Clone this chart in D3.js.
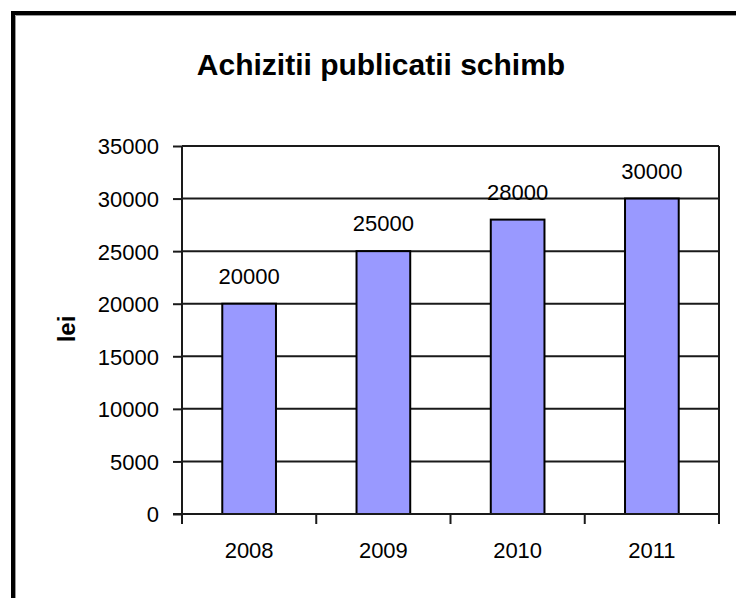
<!DOCTYPE html>
<html>
<head>
<meta charset="utf-8">
<script src="https://cdn.jsdelivr.net/npm/d3@7"></script>
<style>
  html, body { margin: 0; padding: 0; background: #fff; }
  svg { display: block; }
  text { font-family: "Liberation Sans", Arial, sans-serif; fill: #000; }
</style>
</head>
<body>
<script>
const categories = ["2008", "2009", "2010", "2011"];
const values = [20000, 25000, 28000, 30000];
const yTicks = [0, 5000, 10000, 15000, 20000, 25000, 30000, 35000];
const chartTitle = "Achizitii publicatii schimb";
const yTitle = "lei";

const W = 736, H = 598;
const pLeft = 182, pRight = 719, pTop = 146, pBottom = 514;

const svg = d3.select("body").append("svg").attr("width", W).attr("height", H);
svg.append("rect").attr("width", W).attr("height", H).attr("fill", "#fff");

// outer chart border (extends beyond right/bottom)
svg.append("rect").attr("x", 13).attr("y", 13).attr("width", 800).attr("height", 700)
  .attr("fill", "#fff").attr("stroke", "#000").attr("stroke-width", 4);
svg.append("path").attr("d", "M15.5,800 V15.5 H800").attr("fill", "none")
  .attr("stroke", "#999").attr("stroke-width", 1);

const x = d3.scaleBand().domain(categories).range([pLeft, pRight]).paddingInner(0.6).paddingOuter(0.3);
const y = d3.scaleLinear().domain([0, 35000]).range([pBottom, pTop]);

// gridlines
svg.append("g").selectAll("line").data(yTicks.filter(d => d > 0)).join("line")
  .attr("x1", pLeft).attr("x2", pRight).attr("y1", d => y(d)).attr("y2", d => y(d))
  .attr("stroke", "#1a1a1a").attr("stroke-width", 2);
// right border of plot area
svg.append("line").attr("x1", pRight).attr("x2", pRight).attr("y1", pTop).attr("y2", pBottom)
  .attr("stroke", "#1a1a1a").attr("stroke-width", 2);

// bars
svg.append("g").selectAll("rect").data(values).join("rect")
  .attr("x", (d, i) => x(categories[i]))
  .attr("y", d => y(d))
  .attr("width", x.bandwidth())
  .attr("height", d => y(0) - y(d))
  .attr("fill", "#9999ff").attr("stroke", "#000").attr("stroke-width", 2);

// y axis
const yAxis = svg.append("g").attr("transform", `translate(${pLeft},0)`)
  .call(d3.axisLeft(y).tickValues(yTicks).tickSize(9).tickPadding(14).tickFormat(d3.format("d")));
yAxis.select(".domain").attr("d", `M0,${pTop}V${pBottom + 10}`).attr("stroke", "#1a1a1a").attr("stroke-width", 2);
yAxis.selectAll(".tick line").attr("stroke", "#1a1a1a").attr("stroke-width", 2);
yAxis.selectAll(".tick text").attr("font-size", 22).attr("font-family", "Liberation Sans, Arial, sans-serif")
  .attr("fill", "#000").attr("dy", "0.36em");

// x axis
const bounds = categories.map(c => x(c) - (x.step() - x.bandwidth()) / 2).concat([pRight]);
svg.append("line").attr("x1", pLeft - 9).attr("x2", pRight).attr("y1", pBottom).attr("y2", pBottom)
  .attr("stroke", "#1a1a1a").attr("stroke-width", 2);
svg.append("g").selectAll("line").data(bounds).join("line")
  .attr("x1", d => d).attr("x2", d => d).attr("y1", pBottom).attr("y2", pBottom + 10)
  .attr("stroke", "#1a1a1a").attr("stroke-width", 2);
svg.append("g").selectAll("text").data(categories).join("text")
  .attr("x", d => x(d) + x.bandwidth() / 2).attr("y", 558)
  .attr("text-anchor", "middle").attr("font-size", 22).text(d => d);

// value labels
svg.append("g").selectAll("text").data(values).join("text")
  .attr("x", (d, i) => x(categories[i]) + x.bandwidth() / 2)
  .attr("y", d => y(d) - 20)
  .attr("text-anchor", "middle").attr("font-size", 22).text(d => d);

// title
svg.append("text").attr("x", 381).attr("y", 75).attr("text-anchor", "middle")
  .attr("font-size", 30).attr("font-weight", "bold").text(chartTitle);

// y title
svg.append("text").attr("transform", "translate(75,329) rotate(-90)")
  .attr("text-anchor", "middle").attr("font-size", 24).attr("font-weight", "bold").text(yTitle);
</script>
</body>
</html>
